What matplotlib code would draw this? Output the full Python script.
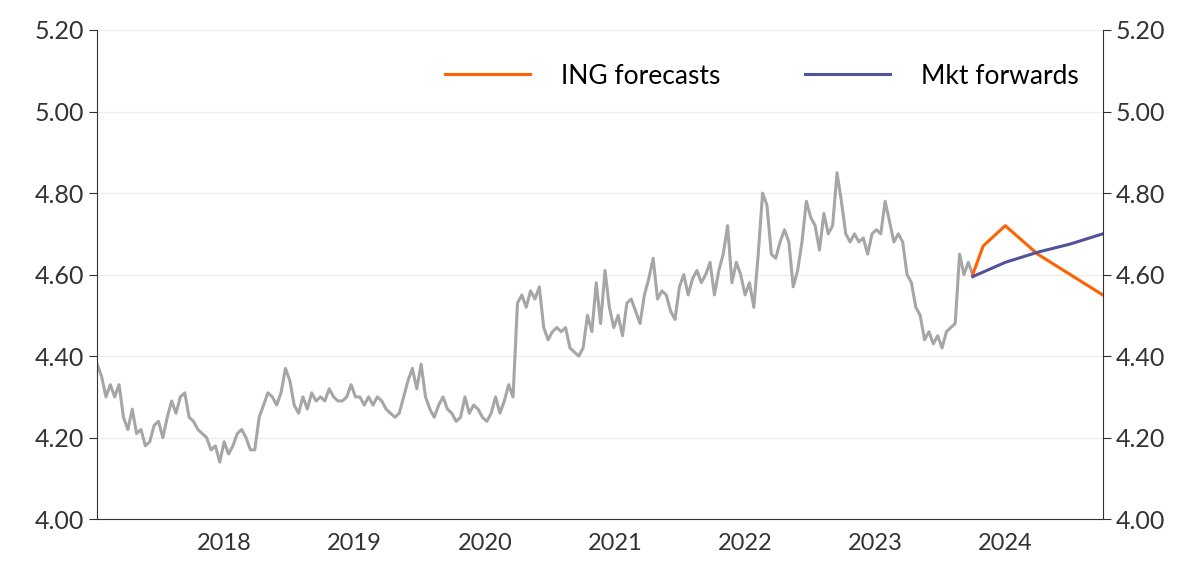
import numpy as np
import matplotlib
matplotlib.use("Agg")
import matplotlib.pyplot as plt

plt.rcParams['font.family'] = ['Lato', 'DejaVu Sans']

hist = [4.38,4.35,4.30,4.33,4.30,4.33,4.25,4.22,4.27,4.21,4.22,4.18,4.19,4.23,4.24,4.20,4.25,4.29,4.26,4.30,4.31,4.25,4.24,4.22,4.21,4.20,4.17,4.18,4.14,4.19,4.16,4.18,4.21,4.22,4.20,4.17,4.17,4.25,4.28,4.31,4.30,4.28,4.31,4.37,4.34,4.28,4.26,4.30,4.27,4.31,4.29,4.30,4.29,4.32,4.30,4.29,4.29,4.30,4.33,4.30,4.30,4.28,4.30,4.28,4.30,4.29,4.27,4.26,4.25,4.26,4.30,4.34,4.37,4.32,4.38,4.30,4.27,4.25,4.28,4.30,4.27,4.26,4.24,4.25,4.30,4.26,4.28,4.27,4.25,4.24,4.26,4.30,4.26,4.29,4.33,4.30,4.53,4.55,4.52,4.56,4.54,4.57,4.47,4.44,4.46,4.47,4.46,4.47,4.42,4.41,4.40,4.42,4.50,4.46,4.58,4.48,4.61,4.52,4.47,4.50,4.45,4.53,4.54,4.51,4.48,4.55,4.59,4.64,4.54,4.56,4.55,4.51,4.49,4.57,4.60,4.55,4.59,4.61,4.58,4.60,4.63,4.55,4.61,4.65,4.72,4.58,4.63,4.60,4.55,4.58,4.52,4.65,4.80,4.77,4.65,4.64,4.68,4.71,4.68,4.57,4.61,4.68,4.78,4.74,4.72,4.66,4.75,4.70,4.72,4.85,4.78,4.70,4.68,4.70,4.68,4.69,4.65,4.70,4.71,4.70,4.78,4.73,4.68,4.70,4.68,4.60,4.58,4.52,4.50,4.44,4.46,4.43,4.45,4.42,4.46,4.47,4.48,4.65,4.60,4.63,4.60]
hist_start, hist_end = 2017.02, 2023.75

ing_t = [2023.75, 2023.83, 2024.0, 2024.25, 2024.5, 2024.75]
ing_v = [4.60, 4.67, 4.72, 4.65, 4.60, 4.55]
fwd_t = [2023.75, 2024.0, 2024.25, 2024.5, 2024.75]
fwd_v = [4.595, 4.63, 4.655, 4.675, 4.70]

years = [2018, 2019, 2020, 2021, 2022, 2023, 2024]
yticks = [4.00, 4.20, 4.40, 4.60, 4.80, 5.00, 5.20]

fig, ax = plt.subplots(figsize=(12, 5.88), dpi=100)
fig.subplots_adjust(left=0.081, right=0.919, top=0.949, bottom=0.117)
ht = np.linspace(hist_start, hist_end, len(hist))
ax.plot(ht, hist, color='#a6a6a6', lw=2.2)
ax.plot(ing_t, ing_v, color='#ff6200', lw=2.2, label='ING forecasts')
ax.plot(fwd_t, fwd_v, color='#525199', lw=2.2, label='Mkt forwards')
ax.set_xlim(2017.02, 2024.75)
ax.set_ylim(4.0, 5.2)
ax.set_yticks(yticks)
ax.set_yticklabels([f'{v:.2f}' for v in yticks])
ax.set_xticks(years)
ax.set_xticklabels([str(y) for y in years])
ax.grid(axis='y', color='#eeeeee', lw=1)
ax.set_axisbelow(True)
ax.spines['top'].set_visible(False)
for s in ['left', 'right', 'bottom']:
    ax.spines[s].set_color('#333333')
ax.tick_params(axis='y', which='both', labelsize=18, colors='#333333', right=True, labelright=True, length=6)
ax.tick_params(axis='x', labelsize=17, colors='#333333', length=0, pad=10)
ax.legend(loc='upper right', ncol=2, frameon=False, fontsize=19, handlelength=3.2,
          columnspacing=3.2, handletextpad=1.2, bbox_to_anchor=(1.0, 0.98))
fig.savefig('out.png')
